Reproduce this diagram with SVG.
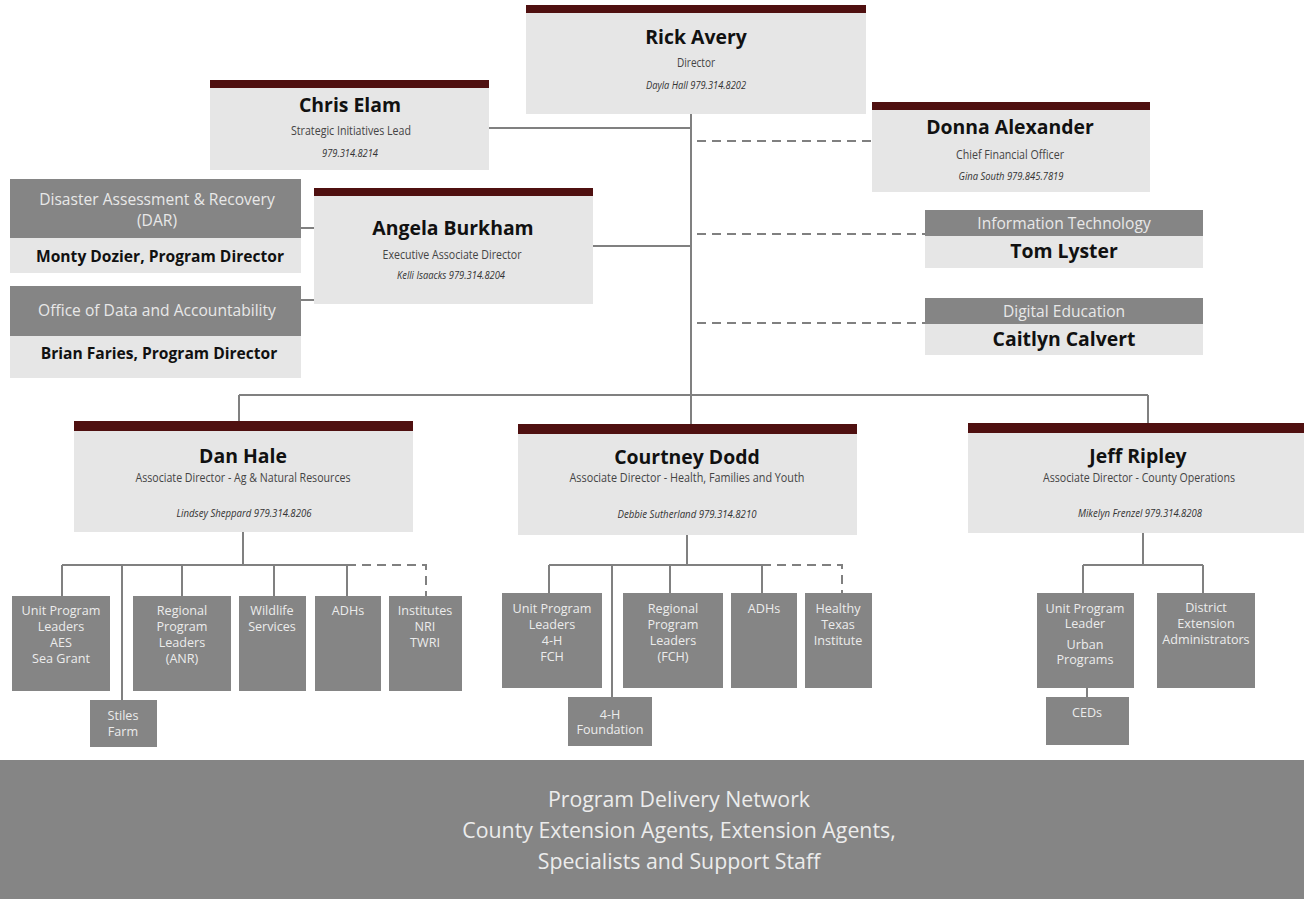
<svg xmlns="http://www.w3.org/2000/svg" width="1304" height="899" viewBox="0 0 1304 899">
<style>
.bar{fill:#4f1010}
.card{fill:#e6e6e6}
.dark{fill:#858585}
.light{fill:#e6e6e6}
.name{font-family:"Open Sans","DejaVu Sans",sans-serif;font-weight:bold;font-size:19.4px;fill:#111;text-anchor:middle}
.sub{font-family:"Open Sans","DejaVu Sans",sans-serif;font-size:12px;fill:#444;text-anchor:middle}
.ph{font-family:"Open Sans","DejaVu Sans",sans-serif;font-size:10px;font-style:italic;fill:#333;text-anchor:middle}
.hd{font-family:"Open Sans","DejaVu Sans",sans-serif;font-size:15.6px;fill:#e8e8e8;text-anchor:middle}
.pd{font-family:"Open Sans","DejaVu Sans",sans-serif;font-weight:bold;font-size:15.6px;fill:#111;text-anchor:middle}
.sm{font-family:"Open Sans","DejaVu Sans",sans-serif;font-size:12.6px;fill:#ececec;text-anchor:middle}
.bn{font-family:"Open Sans","DejaVu Sans",sans-serif;font-size:21.3px;fill:#ececec;text-anchor:middle}
.ln{fill:none;stroke:#808080;stroke-width:2}
.dl{fill:none;stroke:#808080;stroke-width:2;stroke-dasharray:9 6}
</style>
<rect width="1304" height="899" fill="#ffffff"/>
<g id="connectors">
<path class="ln" d="M691 114V424M489 128H691M593 246H691M301 228H314M301 300H314M239 395H1148M239 395V421M1148 395V423"/>
<path class="dl" d="M697 141H872M697 234H925M697 323H925"/>
<path class="ln" d="M243 532V565M62 565H347M62 565V596M122 565V700M182 565V596M274 565V596M347 565V596"/>
<path class="dl" d="M347 565H426V596"/>
<path class="ln" d="M687 535V565M549 565H762M549 565V593M612 565V697M670 565V593M762 565V593"/>
<path class="dl" d="M762 565H842V593"/>
<path class="ln" d="M1143 533V565M1083 565H1203M1083 565V593M1203 565V593M1087 688V697"/>
</g>
<g id="rick">
<rect class="card" x="526" y="5" width="340" height="109"/>
<rect class="bar" x="526" y="5" width="340" height="8"/>
<text class="name" x="696" y="44" font-size="20.4">Rick Avery</text>
<text class="sub" x="696" y="67" textLength="38" lengthAdjust="spacingAndGlyphs">Director</text>
<text class="ph" x="696" y="89" textLength="100" lengthAdjust="spacingAndGlyphs">Dayla Hall 979.314.8202</text>
</g>
<g id="chris">
<rect class="card" x="210" y="80" width="279" height="90"/>
<rect class="bar" x="210" y="80" width="279" height="8"/>
<text class="name" x="350" y="112">Chris Elam</text>
<text class="sub" x="351" y="135" textLength="120" lengthAdjust="spacingAndGlyphs">Strategic Initiatives Lead</text>
<text class="ph" x="350" y="157" textLength="56" lengthAdjust="spacingAndGlyphs">979.314.8214</text>
</g>
<g id="donna">
<rect class="card" x="872" y="102" width="278" height="90"/>
<rect class="bar" x="872" y="102" width="278" height="8"/>
<text class="name" x="1010" y="134">Donna Alexander</text>
<text class="sub" x="1010" y="159" textLength="108" lengthAdjust="spacingAndGlyphs">Chief Financial Officer</text>
<text class="ph" x="1011" y="180" textLength="105" lengthAdjust="spacingAndGlyphs">Gina South  979.845.7819</text>
</g>
<g id="dar">
<rect class="dark" x="10" y="179" width="291" height="59"/>
<rect class="light" x="10" y="238" width="291" height="35"/>
<text class="hd" x="157" y="205">Disaster Assessment &amp; Recovery</text>
<text class="hd" x="157" y="226">(DAR)</text>
<text class="pd" x="160" y="262">Monty Dozier, Program Director</text>
</g>
<g id="oda">
<rect class="dark" x="10" y="286" width="291" height="50"/>
<rect class="light" x="10" y="336" width="291" height="42"/>
<text class="hd" x="157" y="316">Office of Data and Accountability</text>
<text class="pd" x="159" y="359">Brian Faries, Program Director</text>
</g>
<g id="angela">
<rect class="card" x="314" y="188" width="279" height="116"/>
<rect class="bar" x="314" y="188" width="279" height="8"/>
<text class="name" x="453" y="235">Angela Burkham</text>
<text class="sub" x="452" y="259" textLength="139" lengthAdjust="spacingAndGlyphs">Executive Associate Director</text>
<text class="ph" x="451" y="279" textLength="108" lengthAdjust="spacingAndGlyphs">Kelli Isaacks  979.314.8204</text>
</g>
<g id="it">
<rect class="dark" x="925" y="210" width="278" height="26"/>
<rect class="light" x="925" y="236" width="278" height="32"/>
<text class="hd" x="1064" y="229" font-size="18.6">Information Technology</text>
<text class="name" x="1064" y="258">Tom Lyster</text>
</g>
<g id="digital">
<rect class="dark" x="925" y="298" width="278" height="26"/>
<rect class="light" x="925" y="324" width="278" height="31"/>
<text class="hd" x="1064" y="317" font-size="18.6">Digital Education</text>
<text class="name" x="1064" y="346">Caitlyn Calvert</text>
</g>
<g id="dan">
<rect class="card" x="74" y="421" width="339" height="111"/>
<rect class="bar" x="74" y="421" width="339" height="10"/>
<text class="name" x="243" y="463">Dan Hale</text>
<text class="sub" x="243" y="482" textLength="215" lengthAdjust="spacingAndGlyphs">Associate Director - Ag &amp; Natural Resources</text>
<text class="ph" x="244" y="517" textLength="135" lengthAdjust="spacingAndGlyphs">Lindsey Sheppard  979.314.8206</text>
</g>
<g id="courtney">
<rect class="card" x="518" y="424" width="339" height="111"/>
<rect class="bar" x="518" y="424" width="339" height="10"/>
<text class="name" x="687" y="464">Courtney Dodd</text>
<text class="sub" x="687" y="482" textLength="235" lengthAdjust="spacingAndGlyphs">Associate Director - Health, Families and Youth</text>
<text class="ph" x="687" y="518" textLength="139" lengthAdjust="spacingAndGlyphs">Debbie Sutherland  979.314.8210</text>
</g>
<g id="jeff">
<rect class="card" x="968" y="423" width="336" height="110"/>
<rect class="bar" x="968" y="423" width="336" height="10"/>
<text class="name" x="1138" y="463">Jeff Ripley</text>
<text class="sub" x="1139" y="482" textLength="192" lengthAdjust="spacingAndGlyphs">Associate Director - County Operations</text>
<text class="ph" x="1140" y="517" textLength="124" lengthAdjust="spacingAndGlyphs">Mikelyn Frenzel  979.314.8208</text>
</g>
<g id="anr-upl">
<rect class="dark" x="12" y="596" width="98" height="95"/>
<text class="sm" x="61" y="615">Unit Program</text>
<text class="sm" x="61" y="631">Leaders</text>
<text class="sm" x="61" y="647">AES</text>
<text class="sm" x="61" y="663">Sea Grant</text>
</g>
<g id="stiles">
<rect class="dark" x="90" y="700" width="67" height="47"/>
<text class="sm" x="123" y="720">Stiles</text>
<text class="sm" x="123" y="736">Farm</text>
</g>
<g id="anr-rpl">
<rect class="dark" x="133" y="596" width="98" height="95"/>
<text class="sm" x="182" y="615">Regional</text>
<text class="sm" x="182" y="631">Program</text>
<text class="sm" x="182" y="647">Leaders</text>
<text class="sm" x="182" y="663">(ANR)</text>
</g>
<g id="wildlife">
<rect class="dark" x="239" y="596" width="67" height="95"/>
<text class="sm" x="272" y="615">Wildlife</text>
<text class="sm" x="272" y="631">Services</text>
</g>
<g id="anr-adhs">
<rect class="dark" x="315" y="596" width="66" height="95"/>
<text class="sm" x="348" y="615">ADHs</text>
</g>
<g id="institutes">
<rect class="dark" x="389" y="596" width="73" height="95"/>
<text class="sm" x="425" y="615">Institutes</text>
<text class="sm" x="425" y="631">NRI</text>
<text class="sm" x="425" y="647">TWRI</text>
</g>
<g id="hfy-upl">
<rect class="dark" x="502" y="593" width="100" height="95"/>
<text class="sm" x="552" y="613">Unit Program</text>
<text class="sm" x="552" y="629">Leaders</text>
<text class="sm" x="552" y="645">4-H</text>
<text class="sm" x="552" y="661">FCH</text>
</g>
<g id="foundation">
<rect class="dark" x="568" y="697" width="84" height="49"/>
<text class="sm" x="610" y="719">4-H</text>
<text class="sm" x="610" y="734">Foundation</text>
</g>
<g id="hfy-rpl">
<rect class="dark" x="623" y="593" width="100" height="95"/>
<text class="sm" x="673" y="613">Regional</text>
<text class="sm" x="673" y="629">Program</text>
<text class="sm" x="673" y="645">Leaders</text>
<text class="sm" x="673" y="661">(FCH)</text>
</g>
<g id="hfy-adhs">
<rect class="dark" x="731" y="593" width="66" height="95"/>
<text class="sm" x="764" y="613">ADHs</text>
</g>
<g id="hti">
<rect class="dark" x="805" y="593" width="67" height="95"/>
<text class="sm" x="838" y="613">Healthy</text>
<text class="sm" x="838" y="629">Texas</text>
<text class="sm" x="838" y="645">Institute</text>
</g>
<g id="urban">
<rect class="dark" x="1037" y="593" width="97" height="95"/>
<text class="sm" x="1085" y="613">Unit Program</text>
<text class="sm" x="1085" y="628">Leader</text>
<text class="sm" x="1085" y="649">Urban</text>
<text class="sm" x="1085" y="664">Programs</text>
</g>
<g id="dea">
<rect class="dark" x="1157" y="593" width="98" height="95"/>
<text class="sm" x="1206" y="612">District</text>
<text class="sm" x="1206" y="628">Extension</text>
<text class="sm" x="1206" y="644">Administrators</text>
</g>
<g id="ceds">
<rect class="dark" x="1046" y="697" width="83" height="48"/>
<text class="sm" x="1087" y="717">CEDs</text>
</g>
<g id="network">
<rect class="dark" x="0" y="760" width="1304" height="139"/>
<text class="bn" x="679" y="807">Program Delivery Network</text>
<text class="bn" x="679" y="838">County Extension Agents, Extension Agents,</text>
<text class="bn" x="679" y="869">Specialists and Support Staff</text>
</g>
</svg>
